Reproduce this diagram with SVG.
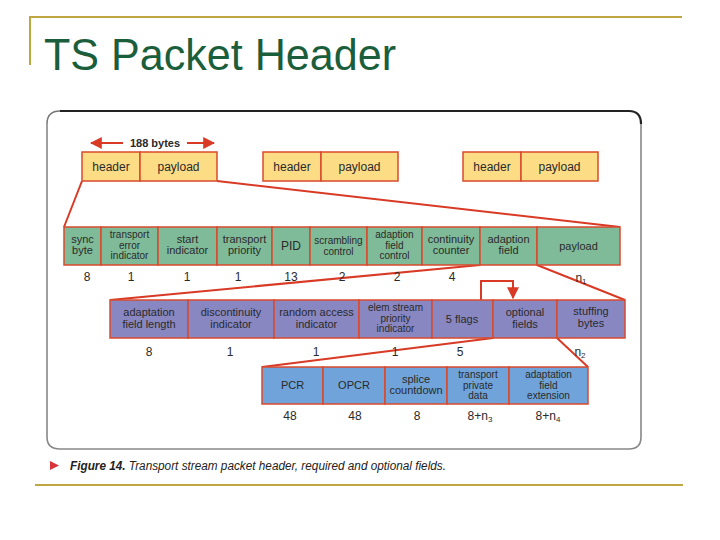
<svg xmlns="http://www.w3.org/2000/svg" width="720" height="540" viewBox="0 0 720 540">
<defs>
<style>
.t{font-family:"Liberation Sans",Arial,sans-serif;fill:#2a2a2a;text-anchor:middle}
.s12{font-size:12px}
.s11{font-size:11px}
.s10{font-size:10px}
.y{fill:#fddc86;stroke:#d94a2c;stroke-width:1.5}
.g{fill:#80bb99;stroke:#d94a2c;stroke-width:1.5}
.p{fill:#8987c2;stroke:#d94a2c;stroke-width:1.5}
.b{fill:#6fa3d9;stroke:#d94a2c;stroke-width:1.5}
.c{stroke:#d83a26;stroke-width:2;fill:none}
.gold{stroke:#bfa640;stroke-width:2;fill:none}
</style>
<marker id="ah" viewBox="0 0 10 10" refX="9" refY="5" markerWidth="6" markerHeight="6" orient="auto-start-reverse">
<path d="M0,0 L10,5 L0,10 z" fill="#d83a26"/>
</marker>
</defs>
<rect width="720" height="540" fill="#ffffff"/>
<!-- title -->
<g id="title">
<polyline class="gold" points="30,65 30,17 682,17"/>
<text x="44" y="70" font-family="'Liberation Sans',Arial,sans-serif" font-size="44" fill="#1b5e3b" textLength="352" lengthAdjust="spacingAndGlyphs">TS Packet Header</text>
</g>
<line class="gold" x1="35" y1="485" x2="683" y2="485"/>
<!-- frame -->
<g id="frame">
<path d="M47,124 Q47,111 60,111" fill="none" stroke="#777" stroke-width="1.5"/>
<path d="M60,111 L629,111 Q641,111 641,124" fill="none" stroke="#222" stroke-width="2.2"/>
<path d="M641,124 L641,437 Q641,449 629,449 L60,449 Q47,449 47,437 L47,124" fill="none" stroke="#888" stroke-width="1.6"/>
</g>
<!-- connectors -->
<g id="connectors">
<line class="c" x1="123" y1="143" x2="91" y2="143" marker-end="url(#ah)"/>
<line class="c" x1="187" y1="143" x2="214" y2="143" marker-end="url(#ah)"/>
<line class="c" x1="82" y1="181" x2="64" y2="227"/>
<line class="c" x1="217" y1="181" x2="620" y2="227"/>
<line class="c" x1="480" y1="265" x2="110" y2="300"/>
<line class="c" x1="537" y1="265" x2="625" y2="300"/>
<polyline class="c" stroke-width="1.5" points="481,300 481,281 513,281 513,298" marker-end="url(#ah)"/>
<line class="c" x1="493" y1="338" x2="262" y2="367"/>
<line class="c" x1="557" y1="338" x2="588" y2="367"/>
</g>
<text class="t s11" x="155" y="147" font-weight="bold" fill="#333">188 bytes</text>
<!-- row 1 packets -->
<g id="pkt1"><rect class="y" x="82" y="152" width="58" height="29"/><rect class="y" x="140" y="152" width="77" height="29"/>
<text class="t s12" x="111" y="171">header</text><text class="t s12" x="178.5" y="171">payload</text></g>
<g id="pkt2"><rect class="y" x="263" y="152" width="58" height="29"/><rect class="y" x="321" y="152" width="77" height="29"/>
<text class="t s12" x="292" y="171">header</text><text class="t s12" x="359.5" y="171">payload</text></g>
<g id="pkt3"><rect class="y" x="463" y="152" width="58" height="29"/><rect class="y" x="521" y="152" width="77" height="29"/>
<text class="t s12" x="492" y="171">header</text><text class="t s12" x="559.5" y="171">payload</text></g>
<!-- row 2 -->
<g id="sync"><rect class="g" x="64" y="227" width="37" height="38"/><text class="t s11"><tspan x="82.5" y="243">sync</tspan><tspan x="82.5" dy="11">byte</tspan></text></g>
<g id="tei"><rect class="g" x="101" y="227" width="57" height="38"/><text class="t s10"><tspan x="129.5" y="238">transport</tspan><tspan x="129.5" dy="10.5">error</tspan><tspan x="129.5" dy="10.5">indicator</tspan></text></g>
<g id="start"><rect class="g" x="158" y="227" width="59" height="38"/><text class="t s11"><tspan x="187.5" y="243">start</tspan><tspan x="187.5" dy="11">indicator</tspan></text></g>
<g id="tprio"><rect class="g" x="217" y="227" width="55" height="38"/><text class="t s11"><tspan x="244.5" y="243">transport</tspan><tspan x="244.5" dy="11">priority</tspan></text></g>
<g id="pid"><rect class="g" x="272" y="227" width="38" height="38"/><text class="t s12" x="291" y="250">PID</text></g>
<g id="scr"><rect class="g" x="310" y="227" width="57" height="38"/><text class="t s10"><tspan x="338.5" y="244">scrambling</tspan><tspan x="338.5" dy="10.5">control</tspan></text></g>
<g id="afc"><rect class="g" x="367" y="227" width="55" height="38"/><text class="t s10"><tspan x="394.5" y="238">adaption</tspan><tspan x="394.5" dy="10.5">field</tspan><tspan x="394.5" dy="10.5">control</tspan></text></g>
<g id="cc"><rect class="g" x="422" y="227" width="58" height="38"/><text class="t s11"><tspan x="451" y="243">continuity</tspan><tspan x="451" dy="11">counter</tspan></text></g>
<g id="af"><rect class="g" x="480" y="227" width="57" height="38"/><text class="t s11"><tspan x="508.5" y="243">adaption</tspan><tspan x="508.5" dy="11">field</tspan></text></g>
<g id="pl"><rect class="g" x="537" y="227" width="83" height="38"/><text class="t s11" x="578.5" y="250">payload</text></g>
<g id="row2nums" class="t s12">
<text x="87" y="281">8</text><text x="131" y="281">1</text><text x="187" y="281">1</text><text x="238" y="281">1</text><text x="291" y="281">13</text><text x="342" y="281">2</text><text x="397" y="281">2</text><text x="452" y="281">4</text>
<text x="581" y="282">n<tspan font-size="8" dy="2">1</tspan></text>
</g>
<!-- row 3 -->
<g id="afl"><rect class="p" x="110" y="300" width="78" height="38"/><text class="t s11"><tspan x="149" y="316">adaptation</tspan><tspan x="149" dy="12">field length</tspan></text></g>
<g id="disc"><rect class="p" x="188" y="300" width="86" height="38"/><text class="t s11"><tspan x="231" y="316">discontinuity</tspan><tspan x="231" dy="12">indicator</tspan></text></g>
<g id="rai"><rect class="p" x="274" y="300" width="85" height="38"/><text class="t s11"><tspan x="316.5" y="316">random access</tspan><tspan x="316.5" dy="12">indicator</tspan></text></g>
<g id="espi"><rect class="p" x="359" y="300" width="73" height="38"/><text class="t s10"><tspan x="395.5" y="311">elem stream</tspan><tspan x="395.5" dy="10.5">priority</tspan><tspan x="395.5" dy="10.5">indicator</tspan></text></g>
<g id="flags"><rect class="p" x="432" y="300" width="61" height="38"/><text class="t s11" x="462" y="323">5 flags</text></g>
<g id="opt"><rect class="p" x="493" y="300" width="64" height="38"/><text class="t s11"><tspan x="525" y="316">optional</tspan><tspan x="525" dy="12">fields</tspan></text></g>
<g id="stuff"><rect class="p" x="557" y="300" width="68" height="38"/><text class="t s11"><tspan x="591" y="315">stuffing</tspan><tspan x="591" dy="12">bytes</tspan></text></g>
<g id="row3nums" class="t s12">
<text x="149" y="356">8</text><text x="230" y="356">1</text><text x="316" y="356">1</text><text x="395" y="356">1</text><text x="460" y="356">5</text>
<text x="580" y="356">n<tspan font-size="8" dy="2">2</tspan></text>
</g>
<!-- row 4 -->
<g id="pcr"><rect class="b" x="262" y="367" width="61" height="37"/><text class="t s11" x="292.5" y="389">PCR</text></g>
<g id="opcr"><rect class="b" x="323" y="367" width="62" height="37"/><text class="t s11" x="354" y="389">OPCR</text></g>
<g id="splice"><rect class="b" x="385" y="367" width="62" height="37"/><text class="t s11"><tspan x="416" y="383">splice</tspan><tspan x="416" dy="11">countdown</tspan></text></g>
<g id="tpd"><rect class="b" x="447" y="367" width="62" height="37"/><text class="t s10"><tspan x="478" y="378">transport</tspan><tspan x="478" dy="10.5">private</tspan><tspan x="478" dy="10.5">data</tspan></text></g>
<g id="afe"><rect class="b" x="509" y="367" width="79" height="37"/><text class="t s10"><tspan x="548.5" y="378">adaptation</tspan><tspan x="548.5" dy="10.5">field</tspan><tspan x="548.5" dy="10.5">extension</tspan></text></g>
<g id="row4nums" class="t s12">
<text x="290" y="420">48</text><text x="355" y="420">48</text><text x="417" y="420">8</text>
<text x="480" y="420">8+n<tspan font-size="8" dy="2">3</tspan></text>
<text x="548" y="420">8+n<tspan font-size="8" dy="2">4</tspan></text>
</g>
<!-- caption -->
<g id="caption">
<polygon points="50,461 59,465.5 50,470" fill="#d8343a"/>
<text x="70" y="470" font-family="'Liberation Sans',Arial,sans-serif" font-size="12.5" font-style="italic" fill="#222" textLength="376" lengthAdjust="spacingAndGlyphs"><tspan font-weight="bold">Figure 14.</tspan> Transport stream packet header, required and optional fields.</text>
</g>
</svg>
